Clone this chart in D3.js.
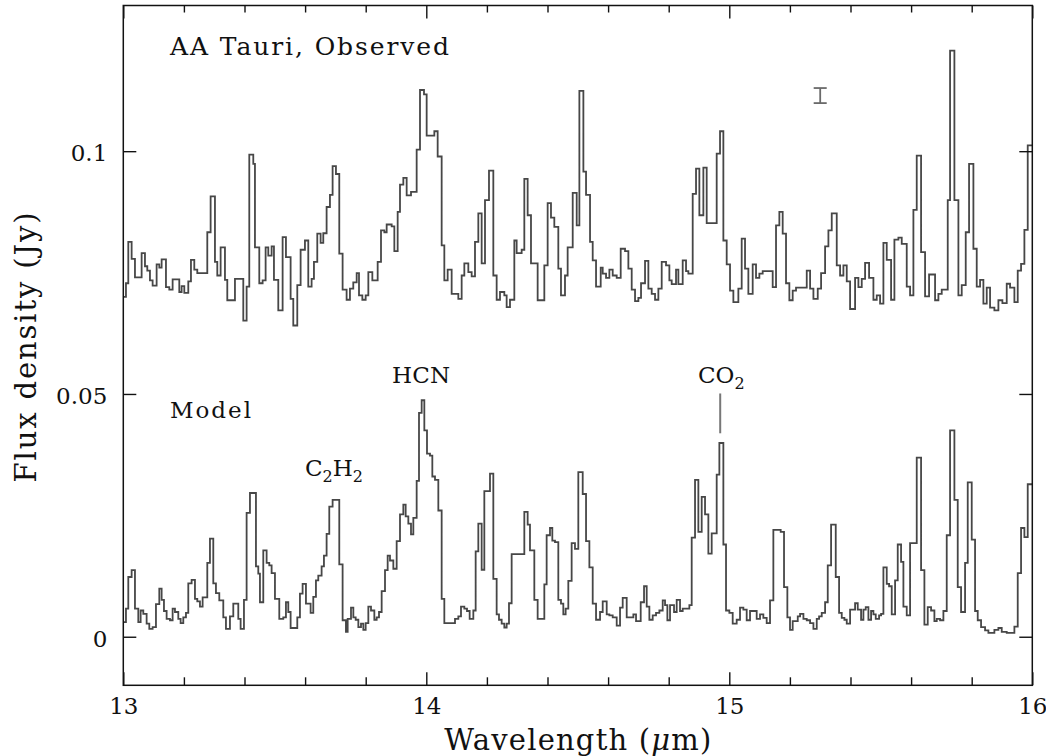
<!DOCTYPE html>
<html>
<head>
<meta charset="utf-8">
<script src="https://cdn.jsdelivr.net/npm/d3@7/dist/d3.min.js"></script>
<style>
  html, body { margin: 0; padding: 0; background: #fff; }
  svg { display: block; }
  text { font-family: "DejaVu Serif", "Liberation Serif", serif; fill: #111; }
</style>
</head>
<body>
<svg id="chart" width="1046" height="756"></svg>
<script>
// ---------------- DATA ----------------
// Observed spectrum: bin start wavelengths (micron) and flux density (Jy)
const obsWave = [13.000,13.0088,13.0165,13.0275,13.0385,13.0605,13.0715,13.0792,13.088,13.0968,13.110,13.1188,13.1265,13.1408,13.1518,13.1628,13.1848,13.1925,13.2013,13.2145,13.2233,13.2343,13.2442,13.2772,13.2882,13.3025,13.3102,13.3212,13.3355,13.3432,13.3685,13.396,13.407,13.4158,13.429,13.4345,13.4488,13.4598,13.4697,13.4785,13.4895,13.4972,13.5115,13.5258,13.5368,13.5522,13.561,13.5742,13.5852,13.5995,13.6105,13.6215,13.6292,13.6402,13.6512,13.660,13.671,13.682,13.6908,13.7018,13.7128,13.7238,13.737,13.748,13.759,13.7702,13.7779,13.7889,13.7999,13.8087,13.8219,13.8395,13.8505,13.8615,13.8692,13.8857,13.8945,13.9055,13.9132,13.9242,13.9352,13.9495,13.9682,13.9792,13.9924,14.0012,14.0265,14.0375,14.0507,14.0595,14.0705,14.0837,14.1057,14.1167,14.1255,14.1387,14.1497,14.1607,14.1717,14.1827,14.1937,14.2069,14.2212,14.2322,14.2432,14.2575,14.2652,14.2762,14.2905,14.2982,14.3147,14.3235,14.3345,14.3455,14.3675,14.3895,14.4005,14.4115,14.4225,14.4357,14.4445,14.4577,14.4665,14.4832,14.4964,14.5052,14.5184,14.5272,14.5404,14.5492,14.5602,14.5756,14.5822,14.5932,14.6042,14.6152,14.6284,14.6416,14.6559,14.6669,14.6779,14.6889,14.6999,14.7087,14.7219,14.7329,14.7439,14.7549,14.7659,14.7769,14.7912,14.8022,14.8099,14.8242,14.8319,14.8462,14.8572,14.8649,14.8792,14.8902,14.9012,14.9144,14.9254,14.9584,14.9694,14.9804,14.9914,15.0024,15.0134,15.0299,15.0409,15.0519,15.0629,15.0772,15.0882,15.0992,15.1102,15.1432,15.1542,15.1652,15.1762,15.1872,15.1982,15.2092,15.2202,15.2556,15.2666,15.2776,15.2919,15.3029,15.3161,15.3271,15.3381,15.3546,15.3656,15.3766,15.3876,15.3986,15.4151,15.4261,15.4371,15.4481,15.4613,15.4756,15.4866,15.4976,15.5086,15.5196,15.5339,15.5449,15.5581,15.5691,15.5856,15.5966,15.6076,15.6186,15.6329,15.6461,15.6593,15.6791,15.6901,15.7011,15.7209,15.7286,15.7429,15.7561,15.7671,15.7803,15.7913,15.8056,15.8166,15.8276,15.8386,15.8496,15.8606,15.8749,15.8881,15.9013,15.9156,15.9266,15.9409,15.9519,15.9629,15.9739,15.9849];
const obsFlux = [0.0700,0.0728,0.0813,0.0778,0.0740,0.0790,0.0763,0.0754,0.0734,0.0723,0.0767,0.0760,0.0777,0.0720,0.0715,0.0736,0.0710,0.0722,0.0708,0.0732,0.0776,0.0756,0.0749,0.0833,0.0907,0.0772,0.0744,0.0802,0.0735,0.0693,0.0737,0.0651,0.0721,0.0993,0.0974,0.0802,0.0728,0.0734,0.0802,0.0785,0.0804,0.0735,0.0672,0.0823,0.0782,0.0696,0.0641,0.0724,0.0797,0.0816,0.0721,0.0737,0.0772,0.0830,0.0811,0.0831,0.0885,0.0910,0.0969,0.0953,0.0789,0.0715,0.0694,0.0717,0.0730,0.0749,0.0703,0.0694,0.0703,0.0751,0.0734,0.0772,0.0837,0.0833,0.0849,0.0845,0.0794,0.0875,0.0931,0.0945,0.0909,0.0916,0.1003,0.1126,0.1117,0.1032,0.1041,0.0989,0.0806,0.0734,0.0756,0.0706,0.0696,0.0744,0.0769,0.0751,0.0742,0.0813,0.0872,0.0769,0.0899,0.0960,0.0744,0.0694,0.0710,0.0703,0.0679,0.0694,0.0816,0.0790,0.0797,0.0943,0.0868,0.0769,0.0693,0.0765,0.0893,0.0863,0.0844,0.0758,0.0703,0.0744,0.0802,0.0914,0.0847,0.1124,0.0958,0.0910,0.0813,0.0775,0.0721,0.0760,0.0748,0.0739,0.0756,0.0744,0.0739,0.0799,0.0794,0.0758,0.0715,0.0691,0.0698,0.0728,0.0774,0.0717,0.0706,0.0694,0.0717,0.0772,0.0765,0.0734,0.0726,0.0756,0.0726,0.0775,0.0753,0.0748,0.0912,0.0964,0.0868,0.0966,0.0852,0.0995,0.1041,0.0816,0.0767,0.0713,0.0689,0.0717,0.0820,0.0758,0.0706,0.0767,0.0739,0.0748,0.0753,0.0720,0.0847,0.0875,0.0830,0.0728,0.0693,0.0713,0.0719,0.0754,0.0717,0.0696,0.0717,0.0749,0.0804,0.0837,0.0872,0.0765,0.0744,0.0765,0.0732,0.0675,0.0739,0.0720,0.0737,0.0770,0.0739,0.0694,0.0703,0.0686,0.0811,0.0776,0.0694,0.0818,0.0822,0.0809,0.0721,0.0703,0.0879,0.0991,0.0792,0.0701,0.0746,0.0693,0.0706,0.0715,0.0899,0.1207,0.0899,0.0703,0.0724,0.0833,0.0974,0.0799,0.0721,0.0735,0.0686,0.0719,0.0678,0.0672,0.0693,0.0687,0.0727,0.0719,0.0689,0.0754,0.0768,0.0838,0.1012];

// Model spectrum: bin start wavelengths (micron) and flux density (Jy)
const modWave = [13.000,13.0088,13.0165,13.0275,13.0385,13.0495,13.0572,13.066,13.077,13.0858,13.0968,13.1078,13.1188,13.1265,13.1342,13.143,13.154,13.1628,13.1705,13.1815,13.1892,13.198,13.2068,13.2145,13.2255,13.2365,13.2442,13.253,13.2618,13.2772,13.286,13.297,13.3058,13.3168,13.330,13.3388,13.352,13.363,13.3795,13.3872,13.3982,13.407,13.418,13.4378,13.4455,13.451,13.462,13.473,13.4818,13.4895,13.5005,13.5148,13.528,13.5368,13.5445,13.5522,13.5742,13.583,13.5918,13.6028,13.6182,13.627,13.6358,13.6435,13.6545,13.6622,13.671,13.6798,13.6908,13.7128,13.7238,13.7348,13.7405,13.7515,13.7592,13.7669,13.7757,13.7845,13.7922,13.7999,13.8087,13.8175,13.8285,13.8362,13.8439,13.8527,13.8637,13.8725,13.8802,13.8912,13.9022,13.9132,13.9242,13.9319,13.9407,13.9495,13.9572,13.9682,13.9759,13.9847,13.9935,14.0023,14.0122,14.0199,14.0287,14.0397,14.0507,14.0595,14.0947,14.1057,14.1145,14.1255,14.1343,14.1431,14.1552,14.1629,14.1717,14.1827,14.1915,14.2102,14.2212,14.2322,14.2399,14.2487,14.2575,14.2652,14.2729,14.2817,14.3235,14.3345,14.3422,14.3565,14.3675,14.3895,14.3972,14.4082,14.4159,14.4247,14.4357,14.4445,14.4522,14.4599,14.4687,14.4797,14.4907,14.5017,14.5162,14.5272,14.5382,14.5492,14.5602,14.5734,14.5822,14.5954,14.6042,14.6152,14.6284,14.6394,14.6482,14.6614,14.6834,14.6922,14.7076,14.7186,14.7274,14.7362,14.7472,14.7582,14.7692,14.7802,14.7879,14.7956,14.8044,14.8176,14.8264,14.8374,14.8462,14.8682,14.8759,14.8869,14.8979,14.9089,14.9199,14.9309,14.9419,14.9584,14.9672,14.9804,14.9892,15.0002,15.0112,15.0244,15.0354,15.0464,15.0574,15.0684,15.0904,15.1014,15.1124,15.1234,15.1344,15.1454,15.1696,15.1806,15.1916,15.2004,15.2092,15.2259,15.2336,15.2446,15.2556,15.2666,15.2776,15.2886,15.2963,15.3051,15.3161,15.3249,15.3359,15.3513,15.3623,15.3711,15.3799,15.3876,15.3986,15.4151,15.4239,15.4349,15.4426,15.4503,15.4591,15.4679,15.4756,15.4833,15.4943,15.5009,15.5086,15.5196,15.5273,15.5361,15.5471,15.5559,15.5669,15.5746,15.5856,15.5966,15.6186,15.6329,15.6439,15.6549,15.6659,15.6769,15.6846,15.6956,15.7066,15.7176,15.7286,15.7429,15.7539,15.7649,15.7781,15.7869,15.8001,15.8111,15.8199,15.8309,15.8441,15.8551,15.8749,15.8881,15.8991,15.9156,15.9409,15.9519,15.9629,15.9739,15.9849];
const modFlux = [0.0030,0.0058,0.0123,0.0137,0.0058,0.0030,0.0054,0.0047,0.0027,0.0016,0.0020,0.0067,0.0099,0.0076,0.0053,0.0037,0.0034,0.0058,0.0051,0.0037,0.0028,0.0040,0.0049,0.0110,0.0117,0.0078,0.0073,0.0062,0.0081,0.0152,0.0202,0.0110,0.0090,0.0075,0.0040,0.0016,0.0042,0.0068,0.0037,0.0016,0.0076,0.0255,0.0296,0.0145,0.0130,0.0071,0.0178,0.0152,0.0147,0.0131,0.0078,0.0037,0.0040,0.0071,0.0051,0.0018,0.0040,0.0089,0.0109,0.0068,0.0049,0.0082,0.0116,0.0126,0.0145,0.0167,0.0212,0.0268,0.0282,0.0149,0.0034,0.0010,0.0037,0.0060,0.0040,0.0035,0.0020,0.0027,0.0014,0.0028,0.0062,0.0054,0.0035,0.0040,0.0051,0.0094,0.0137,0.0167,0.0157,0.0140,0.0197,0.0252,0.0272,0.0248,0.0233,0.0211,0.0245,0.0321,0.0461,0.0487,0.0425,0.0377,0.0373,0.0330,0.0323,0.0260,0.0078,0.0028,0.0037,0.0042,0.0062,0.0058,0.0053,0.0037,0.0054,0.0176,0.0233,0.0138,0.0300,0.0336,0.0119,0.0046,0.0035,0.0027,0.0019,0.0027,0.0069,0.0170,0.0257,0.0231,0.0178,0.0076,0.0037,0.0108,0.0209,0.0224,0.0198,0.0195,0.0076,0.0068,0.0046,0.0058,0.0115,0.0193,0.0181,0.0339,0.0294,0.0197,0.0143,0.0068,0.0035,0.0051,0.0073,0.0046,0.0044,0.0040,0.0023,0.0060,0.0080,0.0040,0.0046,0.0032,0.0071,0.0104,0.0062,0.0035,0.0044,0.0049,0.0054,0.0075,0.0065,0.0034,0.0065,0.0051,0.0076,0.0053,0.0058,0.0065,0.0204,0.0323,0.0216,0.0288,0.0252,0.0171,0.0213,0.0334,0.0399,0.0190,0.0054,0.0049,0.0027,0.0035,0.0060,0.0056,0.0034,0.0053,0.0037,0.0046,0.0039,0.0028,0.0075,0.0220,0.0216,0.0102,0.0040,0.0014,0.0032,0.0042,0.0047,0.0037,0.0034,0.0028,0.0016,0.0037,0.0042,0.0049,0.0071,0.0147,0.0231,0.0123,0.0049,0.0039,0.0035,0.0027,0.0056,0.0069,0.0056,0.0035,0.0056,0.0061,0.0035,0.0053,0.0046,0.0037,0.0044,0.0047,0.0143,0.0109,0.0104,0.0046,0.0116,0.0190,0.0154,0.0062,0.0044,0.0193,0.0369,0.0137,0.0025,0.0061,0.0054,0.0032,0.0037,0.0034,0.0053,0.0209,0.0425,0.0282,0.0102,0.0051,0.0152,0.0318,0.0200,0.0053,0.0034,0.0020,0.0013,0.0008,0.0014,0.0018,0.0010,0.0008,0.0021,0.0131,0.0224,0.0205,0.0314];

const waveEnd = 16.0;                         // upper edge of last bin
const xMajorTicks = [13, 14, 15, 16];
const xMinorTicks = [13.2,13.4,13.6,13.8,14.2,14.4,14.6,14.8,15.2,15.4,15.6,15.8];
const yTicks = [0, 0.05, 0.1];
const yTickLabels = ["0", "0.05", "0.1"];

// Typical error bar (Jy) at a wavelength
const errWave = 15.30, errLow = 0.1099, errHigh = 0.1130, errCapHalf = 0.0215;
// CO2 marker
const co2Wave = 14.97, co2MarkLow = 0.0419, co2MarkHigh = 0.0501;

// ---------------- DRAW ----------------
const svg = d3.select("#chart");
const W = 1046, H = 756;
const L = 123.3, R = 1032.3, T = 5.5, B = 685.3;

svg.append("rect").attr("width", W).attr("height", H).attr("fill", "#fff");

const x = d3.scaleLinear().domain([13, 16]).range([L, R]);
const y = d3.scaleLinear().domain([-0.01, 0.13]).range([B, T]);

function series(wave, flux) {
  const pts = wave.map((w, i) => ({ w, f: flux[i] }));
  pts.push({ w: waveEnd, f: flux[flux.length - 1] });
  return pts;
}
const line = d3.line().x(d => x(d.w)).y(d => y(d.f)).curve(d3.curveStepAfter);

const plot = svg.append("g");
plot.append("path").datum(series(obsWave, obsFlux))
  .attr("d", line).attr("fill", "none").attr("stroke", "#474747")
  .attr("stroke-width", 1.8).attr("stroke-linejoin", "miter");
plot.append("path").datum(series(modWave, modFlux))
  .attr("d", line).attr("fill", "none").attr("stroke", "#474747")
  .attr("stroke-width", 1.8).attr("stroke-linejoin", "miter");

// Axes
const fs = 23;
function styleAxis(g) {
  g.select(".domain").remove();
  g.selectAll(".tick line").attr("stroke", "#111").attr("stroke-width", 1.4);
  g.selectAll(".tick text").style("font-family", '"DejaVu Serif", serif')
    .style("font-size", fs + "px").attr("fill", "#111");
}
// bottom
svg.append("g").attr("transform", `translate(0,${B})`)
  .call(d3.axisBottom(x).tickValues(xMajorTicks).tickSizeInner(-13).tickSizeOuter(0)
    .tickPadding(12).tickFormat(d3.format("d")))
  .call(styleAxis);
svg.append("g").attr("transform", `translate(0,${B})`)
  .call(d3.axisBottom(x).tickValues(xMinorTicks).tickSizeInner(-8).tickSizeOuter(0).tickFormat(""))
  .call(styleAxis);
// top
svg.append("g").attr("transform", `translate(0,${T})`)
  .call(d3.axisTop(x).tickValues(xMajorTicks).tickSizeInner(-13).tickSizeOuter(0).tickFormat(""))
  .call(styleAxis);
svg.append("g").attr("transform", `translate(0,${T})`)
  .call(d3.axisTop(x).tickValues(xMinorTicks).tickSizeInner(-7).tickSizeOuter(0).tickFormat(""))
  .call(styleAxis);
// left
svg.append("g").attr("transform", `translate(${L},0)`)
  .call(d3.axisLeft(y).tickValues(yTicks).tickSizeInner(-13).tickSizeOuter(0)
    .tickPadding(16).tickFormat((d, i) => yTickLabels[i]))
  .call(styleAxis)
  .call(g => g.selectAll(".tick text").attr("dy", "0.42em"));
// right
svg.append("g").attr("transform", `translate(${R},0)`)
  .call(d3.axisRight(y).tickValues(yTicks).tickSizeInner(-13).tickSizeOuter(0).tickFormat(""))
  .call(styleAxis);

// frame
svg.append("rect").attr("x", L).attr("y", T).attr("width", R - L).attr("height", B - T)
  .attr("fill", "none").attr("stroke", "#111").attr("stroke-width", 1.5);

// Axis titles
const xt = svg.append("text").attr("x", (L + R) / 2).attr("y", 750)
  .attr("text-anchor", "middle").style("font-size", "29px")
  .attr("textLength", 267).attr("lengthAdjust", "spacing");
xt.append("tspan").text("Wavelength (");
xt.append("tspan").style("font-style", "italic").text("μ");
xt.append("tspan").text("m)");

svg.append("text").attr("transform", `translate(36,${(T + B) / 2 + 2}) rotate(-90)`)
  .attr("text-anchor", "middle").style("font-size", "29px")
  .attr("textLength", 270).attr("lengthAdjust", "spacing")
  .text("Flux density (Jy)");

// Annotations
svg.append("text").attr("x", 170).attr("y", 55).style("font-size", "25px")
  .attr("textLength", 279).attr("lengthAdjust", "spacing").text("AA Tauri, Observed");
svg.append("text").attr("x", 170).attr("y", 418).style("font-size", "23px")
  .attr("textLength", 81).attr("lengthAdjust", "spacing").text("Model");

const c2 = svg.append("text").attr("x", 305).attr("y", 476).style("font-size", "23px");
c2.append("tspan").text("C");
c2.append("tspan").attr("dy", 6).style("font-size", "16px").text("2");
c2.append("tspan").attr("dy", -6).text("H");
c2.append("tspan").attr("dy", 6).style("font-size", "16px").text("2");

svg.append("text").attr("x", 392).attr("y", 383).style("font-size", "23px")
  .attr("textLength", 58).attr("lengthAdjust", "spacing").text("HCN");

const co = svg.append("text").attr("x", 698).attr("y", 383).style("font-size", "23px");
co.append("tspan").text("CO");
co.append("tspan").attr("dy", 6).style("font-size", "16px").text("2");

// CO2 marker line
svg.append("line").attr("x1", x(co2Wave)).attr("x2", x(co2Wave))
  .attr("y1", y(co2MarkHigh)).attr("y2", y(co2MarkLow))
  .attr("stroke", "#777").attr("stroke-width", 2);

// Error bar
const eb = svg.append("g").attr("stroke", "#6a6a6a").attr("stroke-width", 1.8);
eb.append("line").attr("x1", x(errWave)).attr("x2", x(errWave)).attr("y1", y(errHigh)).attr("y2", y(errLow));
eb.append("line").attr("x1", x(errWave - errCapHalf)).attr("x2", x(errWave + errCapHalf)).attr("y1", y(errHigh)).attr("y2", y(errHigh));
eb.append("line").attr("x1", x(errWave - errCapHalf)).attr("x2", x(errWave + errCapHalf)).attr("y1", y(errLow)).attr("y2", y(errLow));
</script>
</body>
</html>
